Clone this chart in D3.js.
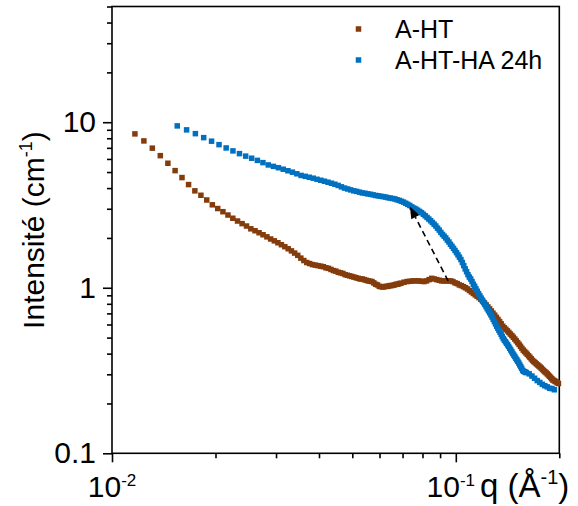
<!DOCTYPE html>
<html><head><meta charset="utf-8">
<script src="https://cdn.jsdelivr.net/npm/d3@7"></script>
<style>
body{margin:0;background:#fff}
svg{display:block}
text{font-family:"Liberation Sans",Arial,sans-serif;fill:#000}
</style>
</head><body>
<svg id="chart" width="578" height="506"></svg>
<script>
// ---------- data ----------
const seriesNames = ["A-HT", "A-HT-HA 24h"];
const seriesColors = ["#843C0C", "#0070C0"];

const qBrown = [0.01166,0.01238,0.01310,0.01382,0.01454,0.01526,0.01598,0.01670,0.01742,0.01814,
0.01886,0.01958,0.02030,0.02102,0.02174,0.02246,0.02318,0.02390,0.02462,0.02534,
0.02606,0.02678,0.02750,0.02822,0.02894,0.02966,0.03038,0.03110,0.03182,0.03254,
0.03326,0.03398,0.03470,0.03542,0.03614,0.03686,0.03758,0.03830,0.03902,0.03974,
0.04046,0.04118,0.04190,0.04262,0.04334,0.04406,0.04478,0.04550,0.04622,0.04694,
0.04766,0.04838,0.04910,0.04982,0.05054,0.05126,0.05198,0.05270,0.05342,0.05414,
0.05486,0.05558,0.05630,0.05702,0.05774,0.05846,0.05918,0.05990,0.06062,0.06134,
0.06206,0.06278,0.06350,0.06422,0.06494,0.06566,0.06638,0.06710,0.06782,0.06854,
0.06926,0.07070,0.07214,0.07358,0.07502,0.07646,0.07790,0.07934,0.08078,0.08222,
0.08366,0.08510,0.08654,0.08798,0.08942,0.09086,0.09230,0.09374,0.09518,0.09662,
0.09806,0.09950,0.10094,0.10238,0.10382,0.10526,0.10670,0.10814,0.10958,0.11102,
0.11246,0.11390,0.11534,0.11678,0.11822,0.11966,0.12110,0.12254,0.12398,0.12542,
0.12686,0.12830,0.12974,0.13118,0.13262,0.13406,0.13550,0.13694,0.13838,0.13982,
0.14126,0.14270,0.14414,0.14558,0.14702,0.14846,0.14990,0.15134,0.15278,0.15422,
0.15566,0.15710,0.15854,0.15998,0.16142,0.16286,0.16430,0.16574,0.16718,0.16862,
0.17006,0.17150,0.17294,0.17438,0.17582,0.17726,0.17870,0.18014,0.18158,0.18302,
0.18446,0.18590,0.18734,0.18878,0.19022,0.19166,0.19310,0.19454,0.19598,0.19742,
0.19886];
const iBrown = [8.50,7.71,6.97,6.28,5.65,5.10,4.63,4.20,3.85,3.62,
3.39,3.17,3.01,2.88,2.75,2.63,2.53,2.44,2.36,2.27,
2.21,2.15,2.09,2.03,1.97,1.92,1.87,1.82,1.77,1.72,
1.67,1.62,1.57,1.51,1.46,1.42,1.40,1.38,1.37,1.36,
1.35,1.34,1.32,1.31,1.29,1.27,1.26,1.24,1.23,1.22,
1.20,1.19,1.18,1.17,1.16,1.15,1.14,1.13,1.13,1.12,
1.11,1.10,1.095,1.09,1.07,1.05,1.04,1.02,1.015,1.01,
1.015,1.02,1.02,1.03,1.03,1.035,1.04,1.05,1.05,1.06,
1.065,1.08,1.09,1.095,1.10,1.10,1.10,1.095,1.09,1.10,
1.12,1.14,1.13,1.12,1.11,1.10,1.10,1.10,1.10,1.10,
1.09,1.07,1.06,1.04,1.03,1.015,1.00,0.983,0.963,0.943,
0.924,0.906,0.889,0.872,0.852,0.831,0.809,0.788,0.766,0.745,
0.724,0.702,0.683,0.663,0.644,0.625,0.606,0.586,0.573,0.561,
0.549,0.537,0.525,0.514,0.502,0.490,0.478,0.466,0.455,0.443,
0.431,0.420,0.412,0.404,0.396,0.388,0.380,0.372,0.364,0.358,
0.353,0.347,0.342,0.337,0.332,0.327,0.321,0.316,0.311,0.307,
0.302,0.297,0.292,0.287,0.282,0.277,0.275,0.272,0.270,0.267,
0.264];

const qBlue = [0.01548,0.01648,0.01748,0.01848,0.01948,0.02048,0.02148,0.02248,0.02348,0.02448,
0.02548,0.02648,0.02748,0.02848,0.02948,0.03048,0.03148,0.03248,0.03348,0.03448,
0.03548,0.03648,0.03748,0.03848,0.03948,0.04048,0.04148,0.04248,0.04348,0.04448,
0.04548,0.04648,0.04748,0.04848,0.04948,0.05048,0.05148,0.05248,0.05348,0.05448,
0.05548,0.05648,0.05748,0.05848,0.05948,0.06048,0.06148,0.06248,0.06348,0.06448,
0.06548,0.06648,0.06748,0.06848,0.06948,0.07048,0.07148,0.07248,0.07348,0.07448,
0.07548,0.07648,0.07748,0.07848,0.07948,0.08048,0.08148,0.08248,0.08348,0.08448,
0.08548,0.08648,0.08748,0.08848,0.08948,0.09048,0.09148,0.09248,0.09348,0.09448,
0.09548,0.09648,0.09748,0.09848,0.09948,0.10048,0.10148,0.10248,0.10348,0.10448,
0.10548,0.10648,0.10748,0.10848,0.10948,0.11048,0.11148,0.11248,0.11348,0.11448,
0.11548,0.11648,0.11748,0.11848,0.11948,0.12048,0.12148,0.12248,0.12348,0.12448,
0.12548,0.12648,0.12748,0.12848,0.12948,0.13048,0.13148,0.13248,0.13348,0.13448,
0.13548,0.13648,0.13748,0.13848,0.13948,0.14048,0.14148,0.14248,0.14348,0.14448,
0.14548,0.14648,0.14748,0.14848,0.14948,0.15048,0.15148,0.15248,0.15348,0.15448,
0.15548,0.15648,0.15748,0.15848,0.15948,0.16048,0.16348,0.16648,0.16948,0.17248,
0.17548,0.17848,0.18148,0.18448,0.18748,0.19048,0.19348];
const iBlue = [9.50,8.99,8.53,8.07,7.68,7.32,6.99,6.71,6.46,6.24,
6.06,5.88,5.70,5.52,5.41,5.31,5.20,5.09,4.99,4.88,
4.77,4.71,4.65,4.59,4.52,4.46,4.40,4.34,4.28,4.22,
4.15,4.07,4.00,3.95,3.90,3.85,3.82,3.78,3.74,3.72,
3.69,3.67,3.64,3.61,3.59,3.57,3.55,3.53,3.50,3.48,
3.46,3.44,3.40,3.37,3.33,3.29,3.24,3.19,3.14,3.08,
3.03,2.99,2.94,2.89,2.84,2.78,2.72,2.66,2.60,2.54,
2.48,2.42,2.36,2.29,2.23,2.16,2.10,2.05,2.00,1.94,
1.89,1.83,1.78,1.73,1.68,1.63,1.58,1.53,1.48,1.42,
1.36,1.30,1.25,1.20,1.16,1.13,1.09,1.05,1.02,0.984,
0.952,0.921,0.893,0.866,0.841,0.817,0.793,0.768,0.746,0.726,
0.706,0.686,0.666,0.645,0.625,0.605,0.586,0.570,0.554,0.539,
0.523,0.507,0.493,0.482,0.472,0.462,0.452,0.442,0.431,0.421,
0.411,0.401,0.392,0.384,0.375,0.367,0.359,0.351,0.342,0.334,
0.326,0.317,0.313,0.311,0.309,0.307,0.302,0.293,0.284,0.275,
0.268,0.261,0.256,0.252,0.247,0.246,0.242];

const xMajorTicks = [0.01, 0.1];
const xMajorExponents = ["-2", "-1"];
const xMinorTicks = [0.02,0.03,0.04,0.05,0.06,0.07,0.08,0.09,0.2];
const yMajorTicks = [0.1, 1, 10];
const yTickLabels = ["0.1", "1", "10"];
const yMinorTicks = [0.2,0.3,0.4,0.5,0.6,0.7,0.8,0.9,2,3,4,5,6,7,8,9,20,30,40,50];
const arrowFrom = [0.095, 1.10];
const arrowTo = [0.0735, 3.10];
const xTitle = "q (Å";
const yTitle = "Intensité (cm";
const titleSup = "-1";

// ---------- layout ----------
const svg = d3.select("#chart");
svg.append("rect").attr("width",578).attr("height",506).attr("fill","#fff");
const L = 112, R = 559.3, T = 6.5, B = 453.3;
const x = d3.scaleLog().domain([0.01, 0.2]).range([L, R]);
const y = d3.scaleLog().domain([0.1, 50]).range([B, T]);
const AX = 1.6;

// frame
svg.append("rect").attr("x",L).attr("y",T).attr("width",R-L).attr("height",B-T)
  .attr("fill","none").attr("stroke","#000").attr("stroke-width",AX);

function styleAxis(g){
  g.select(".domain").remove();
  g.selectAll(".tick line").attr("stroke","#000").attr("stroke-width",AX);
}
// x axis
svg.append("g").attr("transform",`translate(0,${B})`)
  .call(d3.axisBottom(x).tickValues(xMinorTicks).tickSize(5).tickFormat(()=>""))
  .call(styleAxis);
svg.append("g").attr("transform",`translate(0,${B})`)
  .call(d3.axisBottom(x).tickValues(xMajorTicks).tickSize(9).tickFormat(()=>""))
  .call(styleAxis);
const xl = svg.append("g");
xMajorTicks.forEach((d,i)=>{
  // the last decade label sits a little left so the axis title fits after it
  const shift = i === xMajorTicks.length-1 ? -5 : 0;
  const t = xl.append("text").attr("x",x(d)+shift).attr("y",496.5).attr("text-anchor","middle")
    .attr("font-size",30);
  t.append("tspan").text("10");
  t.append("tspan").attr("dy",-11).attr("font-size",17).text(xMajorExponents[i]);
});
// y axis
svg.append("g").attr("transform",`translate(${L},0)`)
  .call(d3.axisLeft(y).tickValues(yMinorTicks).tickSize(5).tickFormat(()=>""))
  .call(styleAxis);
svg.append("g").attr("transform",`translate(${L},0)`)
  .call(d3.axisLeft(y).tickValues(yMajorTicks).tickSize(9).tickPadding(7)
        .tickFormat((d,i)=>yTickLabels[i]))
  .call(styleAxis)
  .call(g=>g.selectAll(".tick text").attr("font-size",30).attr("fill","#000")
        .attr("font-family","'Liberation Sans',Arial,sans-serif"));

// titles
const yt = svg.append("text").attr("transform","translate(44,230) rotate(-90)")
  .attr("text-anchor","middle").attr("font-size",30);
yt.append("tspan").text(yTitle);
yt.append("tspan").attr("dy",-12).attr("font-size",18).text(titleSup);
yt.append("tspan").attr("dy",12).text(")");

const xt = svg.append("text").attr("x",480).attr("y",496.5).attr("font-size",33);
xt.append("tspan").text(xTitle);
xt.append("tspan").attr("dy",-13).attr("font-size",20).text(titleSup);
xt.append("tspan").attr("dy",13).text(")");

// data
const M = 5.5;
const series = [
  {q:qBrown, v:iBrown, c:seriesColors[0]},
  {q:qBlue, v:iBlue, c:seriesColors[1]}
];
series.forEach(s=>{
  svg.append("g").selectAll("rect").data(s.q.map((q,i)=>[q,s.v[i]])).join("rect")
    .attr("x",d=>x(d[0])-M/2).attr("y",d=>y(d[1])-M/2)
    .attr("width",M).attr("height",M).attr("fill",s.c);
});

// arrow annotation
const x0 = x(arrowFrom[0]), y0 = y(arrowFrom[1]), x1 = x(arrowTo[0]), y1 = y(arrowTo[1]);
const len = Math.hypot(x1-x0, y1-y0), ux = (x1-x0)/len, uy = (y1-y0)/len;
const hl = 12, hw = 4.5;
svg.append("line").attr("x1",x0).attr("y1",y0).attr("x2",x1-ux*hl).attr("y2",y1-uy*hl)
  .attr("stroke","#000").attr("stroke-width",1.6).attr("stroke-dasharray","6,4");
svg.append("path").attr("d",`M${x1},${y1}L${x1-ux*hl-uy*hw},${y1-uy*hl+ux*hw}L${x1-ux*hl+uy*hw},${y1-uy*hl-ux*hw}Z`)
  .attr("fill","#000");

// legend
const lg = svg.append("g");
seriesNames.forEach((n,i)=>{
  const cy = 29 + i*31;
  lg.append("rect").attr("x",358.5-M/2).attr("y",cy-M/2).attr("width",M).attr("height",M).attr("fill",seriesColors[i]);
  lg.append("text").attr("x",395).attr("y",cy+8.5).attr("font-size",25).text(n);
});
</script>
</body></html>
